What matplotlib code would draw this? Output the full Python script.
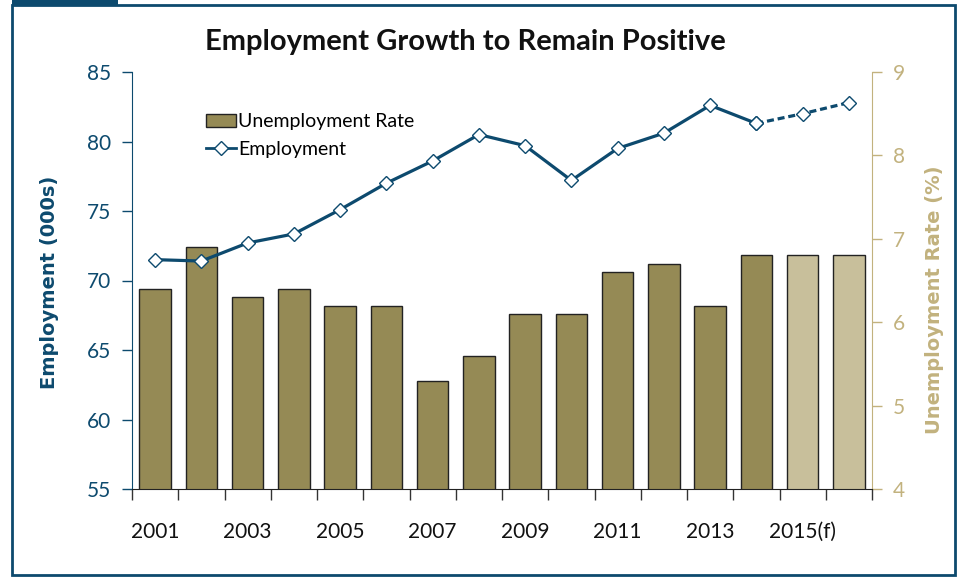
import numpy as np
import matplotlib.pyplot as plt
from matplotlib.patches import Rectangle, Patch
from matplotlib.lines import Line2D

plt.rcParams['font.family'] = ['Lato', 'DejaVu Sans']

years = np.arange(2001, 2017)
tick_labels = ['2001', '2003', '2005', '2007', '2009', '2011', '2013', '2015(f)']
unemployment = [6.4, 6.9, 6.3, 6.4, 6.2, 6.2, 5.3, 5.6, 6.1, 6.1, 6.6, 6.7, 6.2, 6.8, 6.8, 6.8]
employment = [71.5, 71.4, 72.7, 73.35, 75.1, 77.0, 78.6, 80.5, 79.7, 77.2, 79.5, 80.6, 82.6, 81.3, 82.0, 82.8]
n_actual = 14  # 2015, 2016 are forecasts

teal = '#0d4a6e'
tan = '#c2b27e'
olive = '#958a55'
olive_light = '#c8bf9b'

fig = plt.figure(figsize=(9.61, 5.79), dpi=100)
fig.set_facecolor('w')

ax = fig.add_axes([132 / 961, 1 - 489 / 579, 740 / 961, 417 / 579])
ax2 = ax.twinx()
ax.set_zorder(ax2.get_zorder() + 1)
ax.patch.set_visible(False)

x = np.arange(len(years))
colors = [olive] * n_actual + [olive_light] * (len(years) - n_actual)
ax2.bar(x, unemployment, width=0.68, color=colors, edgecolor='#222222', linewidth=1.0)
ax2.set_ylim(4, 9)
ax2.set_yticks(range(4, 10))

ax.plot(x[:n_actual], employment[:n_actual], color=teal, lw=2.3,
        marker='D', ms=7, mfc='white', mec=teal, mew=1.0)
ax.plot(x[n_actual - 1:], employment[n_actual - 1:], color=teal, lw=2.3, ls=(0, (2.2, 1.2)),
        marker='D', ms=7, mfc='white', mec=teal, mew=1.0)
ax.set_ylim(55, 85)
ax.set_yticks(range(55, 90, 5))
ax.set_xlim(-0.5, len(years) - 0.5)

ax.set_xticks(x[::2])
ax.set_xticklabels(tick_labels)
ax.set_xticks(np.arange(-0.5, len(years)), minor=True)
ax.tick_params(axis='x', which='major', length=0, pad=24, labelsize=15, labelcolor='#111111')
ax.tick_params(axis='x', which='minor', length=8, width=1, color='#333333')
ax.tick_params(axis='y', length=7, width=1, color=teal, labelcolor=teal, labelsize=15, pad=8)
ax2.tick_params(axis='y', length=7, width=1, color=tan, labelcolor=tan, labelsize=15, pad=8)

for a in (ax, ax2):
    a.spines['top'].set_visible(False)
ax.spines['left'].set_color(teal)
ax.spines['right'].set_visible(False)
ax2.spines['left'].set_visible(False)
ax2.spines['right'].set_color(tan)
ax.spines['bottom'].set_color('#222222')
ax2.spines['bottom'].set_visible(False)

fig.text(50 / 961, 1 - 282 / 579, 'Employment (000s)', rotation=90, ha='center', va='center',
         fontsize=14, fontweight='bold', color=teal, family='DejaVu Sans')
fig.text(935 / 961, 1 - 300 / 579, 'Unemployment Rate (%)', rotation=90, ha='center', va='center',
         fontsize=14, fontweight='bold', color=tan, family='DejaVu Sans')
fig.text(465 / 961, 1 - 42 / 579, 'Employment Growth to Remain Positive', ha='center', va='center',
         fontsize=21, fontweight='bold', color='#111111')

handles = [Patch(facecolor=olive, edgecolor='#222222', label='Unemployment Rate'),
           Line2D([], [], color=teal, lw=2, marker='D', ms=7, mfc='white', mec=teal, label='Employment')]
ax.legend(handles=handles, loc='upper left', bbox_to_anchor=(0.09, 0.92), frameon=False,
          fontsize=14, handlelength=1.5, handletextpad=0.15, labelspacing=0.55, borderaxespad=0)

fig.add_artist(Rectangle((12 / 961, 4 / 579), 943 / 961, 570 / 579, transform=fig.transFigure,
                         fill=False, edgecolor=teal, lw=2))
fig.add_artist(Rectangle((12 / 961, 1 - 6 / 579), 106 / 961, 6 / 579, transform=fig.transFigure,
                         facecolor=teal, edgecolor='none'))

fig.savefig('out.png', dpi=100)
